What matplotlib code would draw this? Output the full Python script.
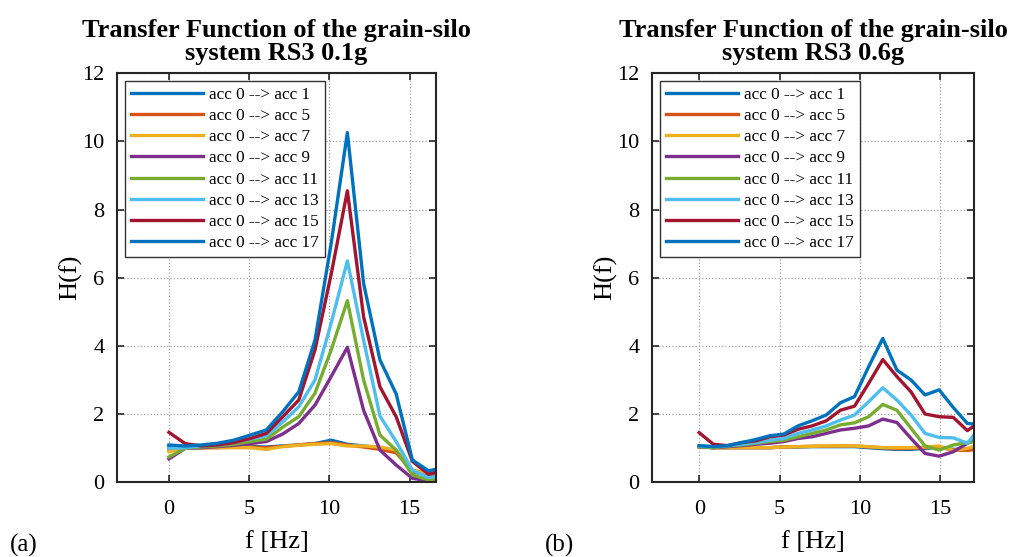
import matplotlib
matplotlib.use('Agg')
import matplotlib.pyplot as plt

plt.rcParams['font.family'] = ['Liberation Serif', 'DejaVu Serif']

# frequency axes
freq_01 = [0.00, 1.01, 2.02, 3.03, 4.04, 5.06, 6.07, 7.08, 8.09, 9.10, 10.11,
           11.12, 12.13, 13.15, 14.16, 15.17, 16.18, 17.19]
freq_06 = [0.00, 0.88, 1.76, 2.64, 3.52, 4.40, 5.27, 6.15, 7.03, 7.91, 8.79,
           9.67, 10.55, 11.43, 12.31, 13.19, 14.06, 14.94, 15.82, 16.70, 17.58]

labels = ['acc 0 --> acc 1', 'acc 0 --> acc 5', 'acc 0 --> acc 7', 'acc 0 --> acc 9',
          'acc 0 --> acc 11', 'acc 0 --> acc 13', 'acc 0 --> acc 15', 'acc 0 --> acc 17']

# RS3 0.1g
h01_acc1 = [1.05, 1.00, 1.00, 1.02, 1.03, 1.04, 1.02, 1.05, 1.08, 1.12, 1.22, 1.10, 1.05, 1.00, 0.90, 0.30, 0.18, 0.30]
h01_acc5 = [0.95, 1.00, 1.00, 1.00, 1.01, 1.02, 1.00, 1.04, 1.08, 1.12, 1.15, 1.08, 1.02, 0.95, 0.85, 0.30, 0.18, 0.28]
h01_acc7 = [0.88, 1.00, 1.00, 1.00, 1.00, 1.00, 0.95, 1.03, 1.07, 1.10, 1.12, 1.05, 1.05, 1.02, 0.93, 0.34, 0.25, 0.35]
h01_acc9 = [0.67, 0.98, 1.00, 1.03, 1.07, 1.12, 1.18, 1.40, 1.71, 2.25, 3.09, 3.95, 2.10, 0.93, 0.49, 0.10, 0.02, 0.08]
h01_acc11 = [0.73, 0.98, 1.02, 1.05, 1.10, 1.18, 1.25, 1.60, 1.91, 2.60, 3.87, 5.32, 2.99, 1.37, 0.93, 0.20, 0.05, 0.12]
h01_acc13 = [0.98, 1.00, 1.05, 1.08, 1.15, 1.25, 1.35, 1.75, 2.20, 2.99, 4.66, 6.49, 4.16, 1.93, 1.18, 0.34, 0.12, 0.18]
h01_acc15 = [1.45, 1.12, 1.05, 1.08, 1.15, 1.27, 1.42, 1.90, 2.40, 3.87, 6.10, 8.55, 4.85, 2.79, 1.91, 0.60, 0.22, 0.35]
h01_acc17 = [1.08, 1.05, 1.08, 1.13, 1.22, 1.37, 1.52, 2.05, 2.64, 4.16, 7.00, 10.26, 5.83, 3.58, 2.58, 0.64, 0.32, 0.42]

# RS3 0.6g
h06_acc1 = [1.03, 1.00, 1.00, 1.00, 1.00, 1.00, 1.02, 1.02, 1.03, 1.03, 1.03, 1.03, 1.00, 0.97, 0.95, 0.95, 0.98, 1.00, 0.95, 0.95, 1.00]
h06_acc5 = [1.02, 1.00, 1.00, 1.00, 1.00, 1.00, 1.02, 1.03, 1.04, 1.04, 1.05, 1.05, 1.02, 1.00, 0.97, 0.98, 1.00, 1.02, 0.93, 0.92, 0.97]
h06_acc7 = [1.03, 1.00, 1.00, 1.00, 1.00, 1.00, 1.02, 1.03, 1.04, 1.05, 1.05, 1.05, 1.03, 1.00, 1.00, 1.00, 1.02, 1.05, 0.92, 0.98, 1.10]
h06_acc9 = [1.03, 1.00, 1.03, 1.06, 1.10, 1.13, 1.18, 1.27, 1.32, 1.42, 1.52, 1.57, 1.64, 1.84, 1.74, 1.27, 0.83, 0.75, 0.88, 1.13, 1.30]
h06_acc11 = [1.03, 1.00, 1.05, 1.08, 1.13, 1.18, 1.22, 1.32, 1.42, 1.52, 1.67, 1.73, 1.91, 2.27, 2.10, 1.57, 1.05, 0.93, 1.08, 1.15, 1.20]
h06_acc13 = [1.05, 1.03, 1.05, 1.10, 1.15, 1.22, 1.27, 1.42, 1.52, 1.64, 1.81, 1.96, 2.35, 2.76, 2.40, 1.96, 1.42, 1.30, 1.29, 1.13, 1.65]
h06_acc15 = [1.44, 1.10, 1.06, 1.15, 1.20, 1.32, 1.37, 1.54, 1.64, 1.79, 2.10, 2.22, 2.89, 3.59, 3.09, 2.64, 1.99, 1.91, 1.89, 1.50, 1.80]
h06_acc17 = [1.06, 1.03, 1.06, 1.15, 1.24, 1.35, 1.40, 1.64, 1.79, 1.96, 2.32, 2.50, 3.38, 4.21, 3.28, 2.99, 2.55, 2.70, 2.18, 1.71, 1.68]

# matlab default colour order (wraps after 7)
colors = ['#0072BD', '#D95319', '#EDB120', '#7E2F8E', '#77AC30', '#4DBEEE', '#A2142F', '#0072BD']

fig = plt.figure(figsize=(10.11, 5.57), dpi=100)
ax1 = fig.add_axes([0.1157, 0.1352, 0.3155, 0.733])
ax2 = fig.add_axes([0.6449, 0.1352, 0.3185, 0.733])

panels = [
    (ax1, freq_01, [h01_acc1, h01_acc5, h01_acc7, h01_acc9, h01_acc11, h01_acc13, h01_acc15, h01_acc17],
     'Transfer Function of the grain-silo\nsystem RS3 0.1g', (-3.24, 16.64)),
    (ax2, freq_06, [h06_acc1, h06_acc5, h06_acc7, h06_acc9, h06_acc11, h06_acc13, h06_acc15, h06_acc17],
     'Transfer Function of the grain-silo\nsystem RS3 0.6g', (-2.94, 17.11)),
]

for ax, f, series, title, xl in panels:
    for y, c, lab in zip(series, colors, labels):
        ax.plot(f, y, color=c, lw=2.4, label=lab)
    ax.set_xlim(*xl)
    ax.set_ylim(0, 12)
    ax.set_xticks([0, 5, 10, 15])
    ax.set_yticks([0, 2, 4, 6, 8, 10, 12])
    ax.grid(True, linestyle=':', color='#a0a0a0', lw=0.9)
    ax.tick_params(direction='in', top=True, right=True, length=5, width=1.2,
                   labelsize=16, color='#262626')
    ax.tick_params(axis='x', pad=13)
    ax.tick_params(axis='y', pad=9)
    for s in ax.spines.values():
        s.set_linewidth(1.5)
        s.set_color('#262626')
    ax.set_title(title, fontsize=19, fontweight='bold', pad=10, linespacing=0.95)
    ax.set_xlabel('f [Hz]', fontsize=19, labelpad=9)
    ax.set_ylabel('H(f)', fontsize=19, labelpad=0)
    leg = ax.legend(loc='upper left', fontsize=12.3, handlelength=4.25, handletextpad=0.35,
                    borderaxespad=0.45, labelspacing=0.3, fancybox=False, framealpha=1,
                    borderpad=0.35)
    leg.get_frame().set_edgecolor('#333333')
    leg.get_frame().set_linewidth(1.0)

fig.text(10 / 1011, 1 - 545 / 557, '(a)', fontsize=18, va='center', ha='left')
fig.text(545 / 1011, 1 - 545 / 557, '(b)', fontsize=18, va='center', ha='left')

fig.savefig('out.png', dpi=100)
